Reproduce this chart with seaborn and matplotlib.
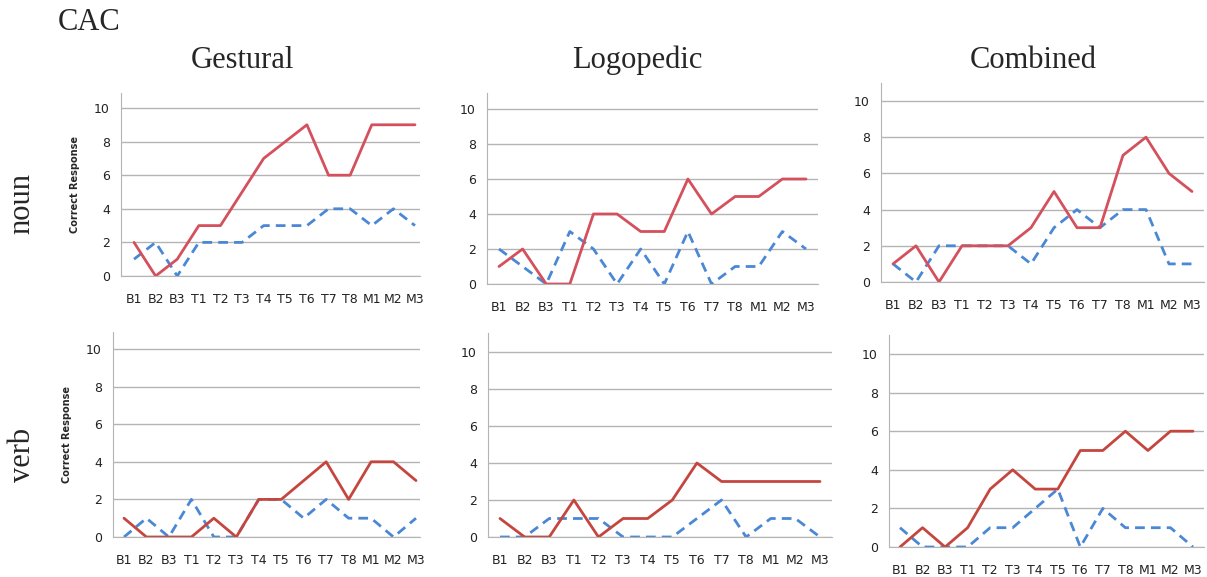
import numpy as np
import pandas as pd
import seaborn as sns
import matplotlib.pyplot as plt

sns.set_style("white")
plt.rcParams['font.family'] = ['DejaVu Sans']

# === Data ===
sessions = ["B1", "B2", "B3", "T1", "T2", "T3", "T4", "T5", "T6", "T7", "T8", "M1", "M2", "M3"]
therapies = ["Gestural", "Logopedic", "Combined"]
word_types = ["noun", "verb"]

# red solid line
gest_noun_red = [2, 0, 1, 3, 3, 5, 7, 8, 9, 6, 6, 9, 9, 9]
logo_noun_red = [1, 2, 0, 0, 4, 4, 3, 3, 6, 4, 5, 5, 6, 6]
comb_noun_red = [1, 2, 0, 2, 2, 2, 3, 5, 3, 3, 7, 8, 6, 5]
gest_verb_red = [1, 0, 0, 0, 1, 0, 2, 2, 3, 4, 2, 4, 4, 3]
logo_verb_red = [1, 0, 0, 2, 0, 1, 1, 2, 4, 3, 3, 3, 3, 3]
comb_verb_red = [0, 1, 0, 1, 3, 4, 3, 3, 5, 5, 6, 5, 6, 6]

# blue dashed line
gest_noun_blue = [1, 2, 0, 2, 2, 2, 3, 3, 3, 4, 4, 3, 4, 3]
logo_noun_blue = [2, 1, 0, 3, 2, 0, 2, 0, 3, 0, 1, 1, 3, 2]
comb_noun_blue = [1, 0, 2, 2, 2, 2, 1, 3, 4, 3, 4, 4, 1, 1]
gest_verb_blue = [0, 1, 0, 2, 0, 0, 2, 2, 1, 2, 1, 1, 0, 1]
logo_verb_blue = [0, 0, 1, 1, 1, 0, 0, 0, 1, 2, 0, 1, 1, 0]
comb_verb_blue = [1, 0, 0, 0, 1, 1, 2, 3, 0, 2, 1, 1, 1, 0]

red_series = {
    ("noun", "Gestural"): gest_noun_red, ("noun", "Logopedic"): logo_noun_red,
    ("noun", "Combined"): comb_noun_red, ("verb", "Gestural"): gest_verb_red,
    ("verb", "Logopedic"): logo_verb_red, ("verb", "Combined"): comb_verb_red,
}
blue_series = {
    ("noun", "Gestural"): gest_noun_blue, ("noun", "Logopedic"): logo_noun_blue,
    ("noun", "Combined"): comb_noun_blue, ("verb", "Gestural"): gest_verb_blue,
    ("verb", "Logopedic"): logo_verb_blue, ("verb", "Combined"): comb_verb_blue,
}

# === Layout in pixels: left, right, top, zero line, y of 10, x of first / last session ===
W, H = 1207, 577
boxes = {
    ("noun", "Gestural"): (121, 420, 93, 276, 108, 134, 415),
    ("noun", "Logopedic"): (487, 818, 93, 284, 109, 499, 806),
    ("noun", "Combined"): (881, 1204, 83, 282, 101, 893, 1192),
    ("verb", "Gestural"): (113, 420, 332, 537, 349, 124, 416),
    ("verb", "Logopedic"): (488, 832, 333, 537, 352, 500, 820),
    ("verb", "Combined"): (889, 1204, 335, 547, 354, 900, 1193),
}
red_colors = {"noun": "#d4505c", "verb": "#c4463e"}
blue_color = "#4a88d6"
grid_color = "#b4b4b4"

fig = plt.figure(figsize=(W / 100, H / 100), dpi=100)

for (word, therapy), (l, r, t, b, y10, x0, x13) in boxes.items():
    ax = fig.add_axes([l / W, 1 - b / H, (r - l) / W, (b - t) / H])
    df = pd.DataFrame({
        "pos": list(range(len(sessions))) * 2,
        "count": red_series[(word, therapy)] + blue_series[(word, therapy)],
        "series": ["red"] * len(sessions) + ["blue"] * len(sessions),
    })
    sns.lineplot(data=df[df.series == "blue"], x="pos", y="count", ax=ax,
                 color=blue_color, linewidth=2.0, linestyle=(0, (3.5, 2.2)))
    sns.lineplot(data=df[df.series == "red"], x="pos", y="count", ax=ax,
                 color=red_colors[word], linewidth=2.0)

    step = (x13 - x0) / 13
    ax.set_xlim((l - x0) / step, (r - x0) / step)
    ax.set_ylim(0, 10 * (b - t) / (b - y10))
    ax.set_yticks(range(0, 11, 2))
    ax.set_xticks(range(len(sessions)))
    ax.set_xticklabels(sessions)
    ax.tick_params(axis="both", length=0, labelsize=9, colors="#222222")
    ax.tick_params(axis="x", pad=12)
    ax.tick_params(axis="y", pad=8)
    ax.yaxis.grid(True, color=grid_color, linewidth=1)
    ax.set_axisbelow(True)
    for side in ["top", "right"]:
        ax.spines[side].set_visible(False)
    ax.spines["left"].set_color(grid_color)
    ax.spines["bottom"].set_color(grid_color)
    ax.set_xlabel("")
    if therapy == "Gestural":
        ax.set_ylabel("Correct Response", fontsize=7, fontweight="bold", labelpad=10)
    else:
        ax.set_ylabel("")

# === Titles and row labels ===
serif = ["Liberation Serif", "DejaVu Serif"]
fig.text(58 / W, 1 - 22 / H, "CAC", family=serif, fontsize=22, ha="left", va="center")
for therapy, x in zip(therapies, [242, 637, 1033]):
    fig.text(x / W, 1 - 60 / H, therapy, family=serif, fontsize=22, ha="center", va="center")
for word, y in zip(word_types, [204, 455]):
    fig.text(22 / W, 1 - y / H, word, family=serif, fontsize=22, rotation=90,
             ha="center", va="center")

plt.savefig("out.png", dpi=100)
plt.close()
